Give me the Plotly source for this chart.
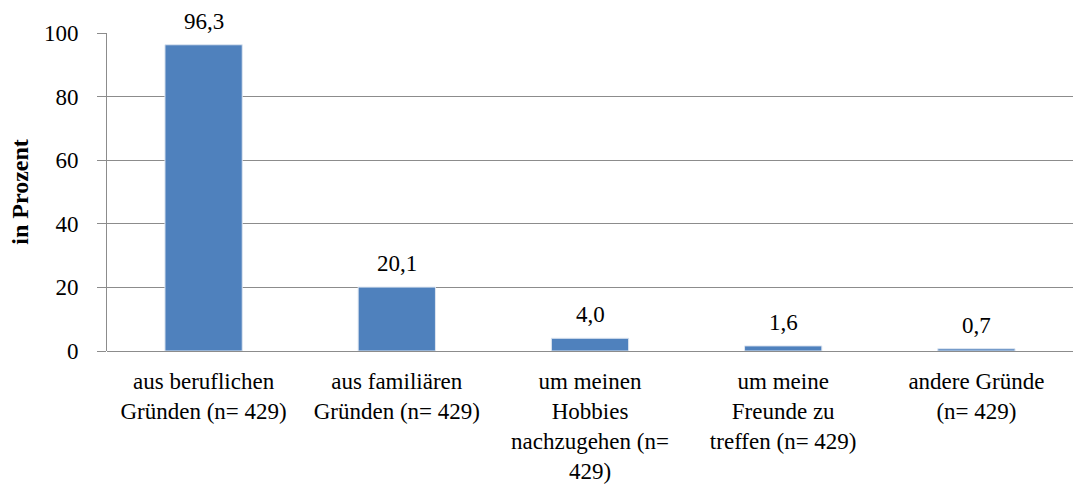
import plotly.graph_objects as go

categories = [
    "aus beruflichen<br>Gründen (n= 429)",
    "aus familiären<br>Gründen (n= 429)",
    "um meinen<br>Hobbies<br>nachzugehen (n=<br>429)",
    "um meine<br>Freunde zu<br>treffen (n= 429)",
    "andere Gründe<br>(n= 429)",
]
values = [96.3, 20.1, 4.0, 1.6, 0.7]
labels = ["96,3", "20,1", "4,0", "1,6", "0,7"]
y_ticks = [0, 20, 40, 60, 80, 100]

font_family = "Liberation Serif"
grid_col = "#8C8C8C"

fig = go.Figure()
fig.add_trace(go.Bar(
    x=categories,
    y=values,
    marker=dict(color="#4F81BD", line=dict(color="#DDE5F0", width=1)),
    width=0.4,
    hoverinfo="skip",
))

for c, v, t in zip(categories, values, labels):
    fig.add_annotation(
        x=c, y=v, text=t, showarrow=False,
        yanchor="bottom", yshift=9,
        font=dict(family=font_family, size=23, color="black"),
    )

fig.update_layout(
    width=1083, height=487,
    margin=dict(l=107, r=10, t=33, b=136),
    paper_bgcolor="white",
    plot_bgcolor="white",
    font=dict(family=font_family, size=23, color="black"),
    showlegend=False,
)
fig.update_xaxes(
    showgrid=False,
    showline=False,
    ticks="",
    tickfont=dict(size=23),
    ticklabelstandoff=14,
    automargin=False,
)
fig.update_yaxes(
    range=[0, 100],
    tickvals=y_ticks,
    showgrid=True,
    gridcolor=grid_col,
    gridwidth=1,
    showline=True,
    linecolor=grid_col,
    linewidth=1,
    ticks="outside",
    ticklen=9,
    tickcolor=grid_col,
    ticklabelstandoff=14,
    tickfont=dict(size=23),
    zeroline=True,
    zerolinecolor=grid_col,
    zerolinewidth=1,
    title=dict(text="<b>in Prozent</b>", font=dict(size=24), standoff=8),
    automargin=False,
)

fig.write_html(
    "out.html",
    config={"displayModeBar": False},
    post_script="document.body.style.margin='0';",
)
